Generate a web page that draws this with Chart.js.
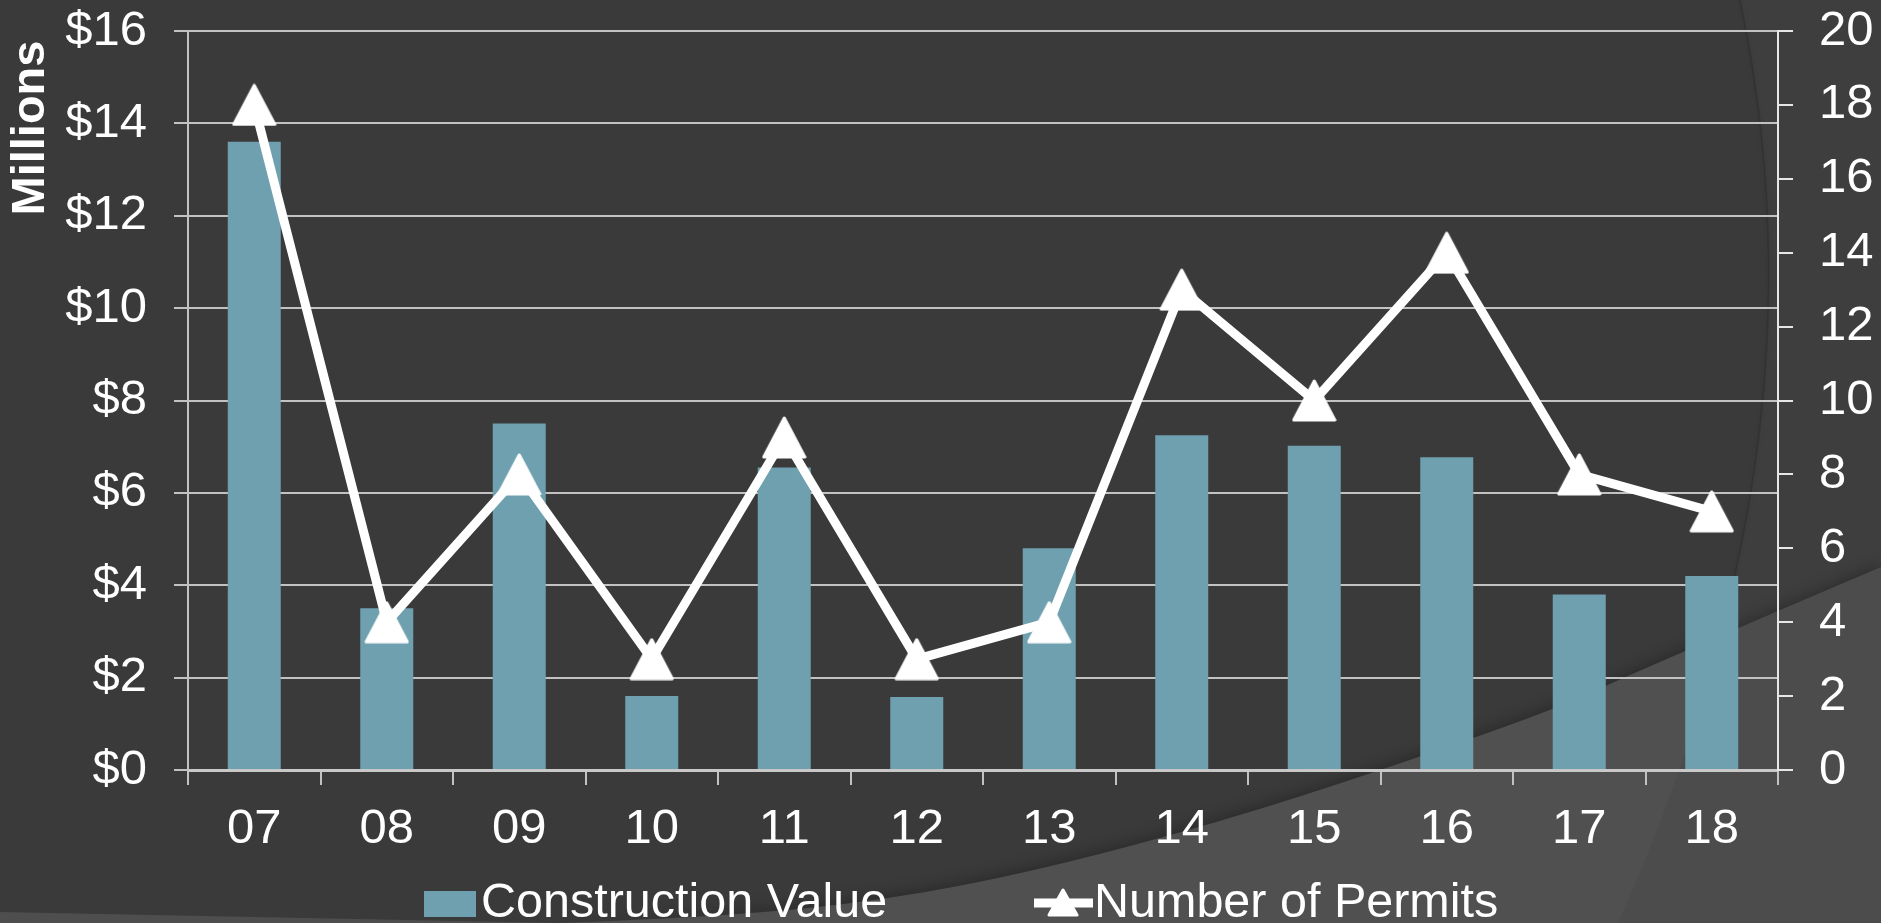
<!DOCTYPE html>
<html><head><meta charset="utf-8">
<script src="https://cdn.jsdelivr.net/npm/chart.js@4/dist/chart.umd.min.js"></script>
<style>html,body{margin:0;padding:0;background:#3a3a3a;overflow:hidden}#wrap{width:1881px;height:923px}</style>
</head><body><div id="wrap"><canvas id="c" width="1881" height="923"></canvas></div>
<script>
const categories = ['07','08','09','10','11','12','13','14','15','16','17','18'];
const constructionValue = [13.6, 3.5, 7.5, 1.6, 6.55, 1.58, 4.8, 7.25, 7.02, 6.77, 3.8, 4.2];
const numberOfPermits = [18, 4, 8, 3, 9, 3, 4, 13, 10, 14, 8, 7];
const leftTicks = [0, 2, 4, 6, 8, 10, 12, 14, 16];
const rightTicks = [0, 2, 4, 6, 8, 10, 12, 14, 16, 18, 20];
const seriesNames = ['Construction Value', 'Number of Permits'];
const axisTitle = 'Millions';

const FONT = "'Liberation Sans', Arial, sans-serif";
const BAR_COLOR = '#6fa0b0';
const GRID = '#c2c2c2';

function makeTriangle(w, h, lw) {
  const c = document.createElement('canvas');
  c.width = w; c.height = h;
  const g = c.getContext('2d');
  g.fillStyle = '#fff'; g.strokeStyle = '#fff';
  g.lineWidth = lw; g.lineJoin = 'round';
  g.beginPath();
  g.moveTo(w / 2, lw / 2 + 0.5);
  g.lineTo(w - lw / 2 - 0.5, h - lw / 2 - 0.5);
  g.lineTo(lw / 2 + 0.5, h - lw / 2 - 0.5);
  g.closePath(); g.fill(); g.stroke();
  return c;
}
const tri = makeTriangle(45, 43, 3);
const triSmall = makeTriangle(32, 29, 3);

function smoothPath(ctx, pts) {
  ctx.moveTo(pts[0][0], pts[0][1]);
  for (let i = 1; i < pts.length - 1; i++) {
    const mx = (pts[i][0] + pts[i + 1][0]) / 2, my = (pts[i][1] + pts[i + 1][1]) / 2;
    ctx.quadraticCurveTo(pts[i][0], pts[i][1], mx, my);
  }
  const l = pts[pts.length - 1];
  ctx.lineTo(l[0], l[1]);
}

function arcPath(ctx) {
  ctx.moveTo(1740, 0);
  ctx.bezierCurveTo(1795, 260, 1780, 560, 1618, 923);
}

const bgPlugin = {
  id: 'bg',
  beforeDraw(chart) {
    const ctx = chart.ctx, W = chart.width, H = chart.height;
    ctx.save();
    ctx.fillStyle = '#3a3a3a';
    ctx.fillRect(0, 0, W, H);
    ctx.beginPath(); arcPath(ctx);
    ctx.lineTo(W, H); ctx.lineTo(W, 0); ctx.closePath();
    ctx.fillStyle = 'rgba(255,255,255,0.022)';
    ctx.fill();
    ctx.beginPath(); arcPath(ctx);
    ctx.strokeStyle = 'rgba(0,0,0,0.12)';
    ctx.lineWidth = 2;
    ctx.shadowColor = 'rgba(0,0,0,0.35)';
    ctx.shadowBlur = 5;
    ctx.stroke();
    ctx.shadowBlur = 0;
    const curve = [[560, 923], [720, 917], [887, 900], [1040, 870], [1220, 822], [1382, 770], [1553, 710], [1618, 680], [1780, 610], [1881, 567]];
    ctx.beginPath();
    smoothPath(ctx, curve);
    ctx.lineTo(W, H); ctx.closePath();
    ctx.fillStyle = '#505050';
    ctx.shadowColor = 'rgba(0,0,0,0.3)';
    ctx.shadowBlur = 16;
    ctx.shadowOffsetY = -2;
    ctx.fill();
    ctx.shadowBlur = 0; ctx.shadowOffsetY = 0;
    ctx.save();
    ctx.beginPath(); smoothPath(ctx, curve); ctx.lineTo(W, H); ctx.closePath(); ctx.clip();
    ctx.beginPath(); arcPath(ctx);
    ctx.lineTo(W, H); ctx.lineTo(W, 0); ctx.closePath();
    ctx.fillStyle = 'rgba(0,0,0,0.04)';
    ctx.fill();
    ctx.restore();
    ctx.beginPath();
    ctx.moveTo(0, 912); ctx.lineTo(560, 923); ctx.lineTo(0, 923); ctx.closePath();
    ctx.fillStyle = '#4e4e4e';
    ctx.fill();
    ctx.restore();
  }
};

const extrasPlugin = {
  id: 'extras',
  afterDraw(chart) {
    const ctx = chart.ctx;
    ctx.save();
    ctx.translate(31, 128);
    ctx.rotate(-Math.PI / 2);
    ctx.font = 'bold 47px ' + FONT;
    ctx.fillStyle = '#ffffff';
    ctx.textAlign = 'center';
    ctx.textBaseline = 'middle';
    ctx.fillText(axisTitle, 0, 0);
    ctx.restore();

    const ds = chart.data.datasets;
    ctx.save();
    ctx.font = '48.5px ' + FONT;
    ctx.textBaseline = 'alphabetic';
    ctx.textAlign = 'left';
    const base = 917;
    ctx.fillStyle = ds[0].backgroundColor;
    ctx.fillRect(424, 891, 52, 26);
    ctx.fillStyle = '#ffffff';
    ctx.fillText(ds[0].label, 481, base);
    ctx.strokeStyle = ds[1].borderColor;
    ctx.lineWidth = 9;
    ctx.beginPath(); ctx.moveTo(1034, 903); ctx.lineTo(1093, 903); ctx.stroke();
    ctx.drawImage(triSmall, 1063 - 16, 903 - 15);
    ctx.fillText(ds[1].label, 1094, base);
    ctx.restore();
  }
};

const tickFont = { size: 49, family: FONT };

new Chart(document.getElementById('c'), {
  data: {
    labels: categories,
    datasets: [
      {
        type: 'bar', label: seriesNames[0], data: constructionValue,
        backgroundColor: BAR_COLOR, yAxisID: 'y',
        barPercentage: 0.4, categoryPercentage: 1, order: 2
      },
      {
        type: 'line', label: seriesNames[1], data: numberOfPermits,
        borderColor: '#ffffff', borderWidth: 9, yAxisID: 'y1',
        pointStyle: tri, pointRadius: 22, pointHoverRadius: 22,
        tension: 0, order: 1, borderJoinStyle: 'miter'
      }
    ]
  },
  options: {
    responsive: false, devicePixelRatio: 1, animation: false,
    layout: { padding: { top: 30, left: 0, right: 0, bottom: 0 } },
    plugins: { legend: { display: false }, tooltip: { enabled: false } },
    scales: {
      x: {
        offset: true,
        grid: { offset: true, drawOnChartArea: false, drawTicks: true, tickLength: 15, color: GRID, lineWidth: 2 },
        border: { color: '#c8c8c8', width: 3 },
        ticks: { color: '#ffffff', font: tickFont, padding: 15, maxRotation: 0, autoSkip: false },
        afterFit(s) { s.height = 153; s.paddingLeft = 0; s.paddingRight = 0; }
      },
      y: {
        position: 'left', min: 0, max: 16,
        afterBuildTicks(s) { s.ticks = leftTicks.map(v => ({ value: v })); },
        grid: { color: GRID, lineWidth: 2, tickLength: 14 },
        border: { color: GRID, width: 2 },
        ticks: { color: '#ffffff', font: tickFont, padding: 27, callback: v => '$' + v },
        afterFit(s) { s.width = 188; s.paddingTop = 0; s.paddingBottom = 0; }
      },
      y1: {
        position: 'right', min: 0, max: 20,
        afterBuildTicks(s) { s.ticks = rightTicks.map(v => ({ value: v })); },
        grid: { drawOnChartArea: false, color: '#e6e6e6', lineWidth: 2, tickLength: 15 },
        border: { color: '#e6e6e6', width: 2 },
        ticks: { color: '#ffffff', font: tickFont, padding: 26 },
        afterFit(s) { s.width = 103; s.paddingTop = 0; s.paddingBottom = 0; }
      }
    }
  },
  plugins: [bgPlugin, extrasPlugin]
});
</script>
</body></html>
